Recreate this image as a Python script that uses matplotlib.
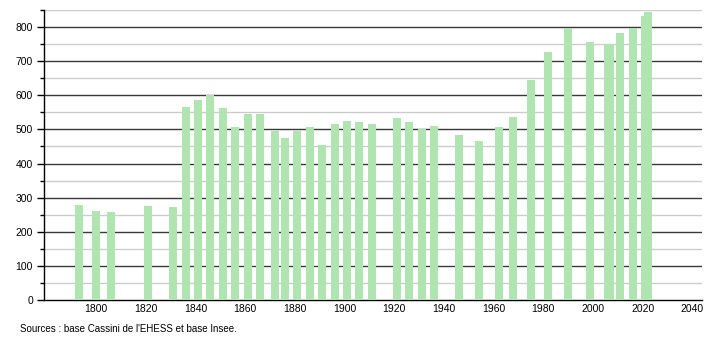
import matplotlib
matplotlib.use("Agg")
import matplotlib.pyplot as plt
from matplotlib.ticker import MultipleLocator

plt.rcParams['font.family'] = ['Liberation Sans', 'DejaVu Sans']

years = [1793, 1800, 1806, 1821, 1831, 1836, 1841, 1846, 1851, 1856,
         1861, 1866, 1872, 1876, 1881, 1886, 1891, 1896, 1901, 1906,
         1911, 1921, 1926, 1931, 1936, 1946, 1954, 1962, 1968, 1975,
         1982, 1990, 1999, 2006, 2007, 2011, 2016, 2021, 2022]
population = [279, 260, 257, 277, 273, 567, 586, 602, 563, 507,
              544, 544, 495, 474, 495, 507, 453, 515, 524, 521,
              515, 532, 521, 501, 510, 484, 465, 507, 536, 645,
              727, 798, 756, 748, 751, 783, 797, 832, 844]
x_ticks = [1800, 1820, 1840, 1860, 1880, 1900, 1920, 1940, 1960, 1980, 2000, 2020, 2040]
y_ticks = [0, 100, 200, 300, 400, 500, 600, 700, 800]
source_text = "Sources : base Cassini de l'EHESS et base Insee."

fig = plt.figure(figsize=(7.1, 3.4), dpi=100)
ax = fig.add_axes([0.062, 0.1176, 0.927, 0.853])

ax.bar(years, population, width=3.2, color='#b0e4b0', zorder=3, linewidth=0)

ax.set_xlim(1779, 2044)
ax.set_ylim(0, 850)
ax.set_xticks(x_ticks)
ax.set_yticks(y_ticks)
ax.yaxis.set_minor_locator(MultipleLocator(50))

for v in range(50, 851, 100):
    ax.axhline(v, color='#cccccc', linewidth=1.0, zorder=1)
for v in y_ticks[1:]:
    ax.axhline(v, color='#383838', linewidth=1.0, zorder=1)

for s in ['top', 'right']:
    ax.spines[s].set_visible(False)
ax.spines['left'].set_color('black')
ax.spines['bottom'].set_color('black')
ax.spines['left'].set_linewidth(1.0)
ax.spines['bottom'].set_linewidth(1.0)

ax.tick_params(axis='x', length=0, labelsize=7.5, pad=3)
ax.tick_params(axis='y', which='major', length=5, width=1, labelsize=7.5, pad=3, direction='out')
ax.tick_params(axis='y', which='minor', length=3, width=1, direction='out')

fig.text(0.028, 0.018, source_text, fontsize=7, ha='left', va='bottom')

fig.savefig('out.png', dpi=100)
